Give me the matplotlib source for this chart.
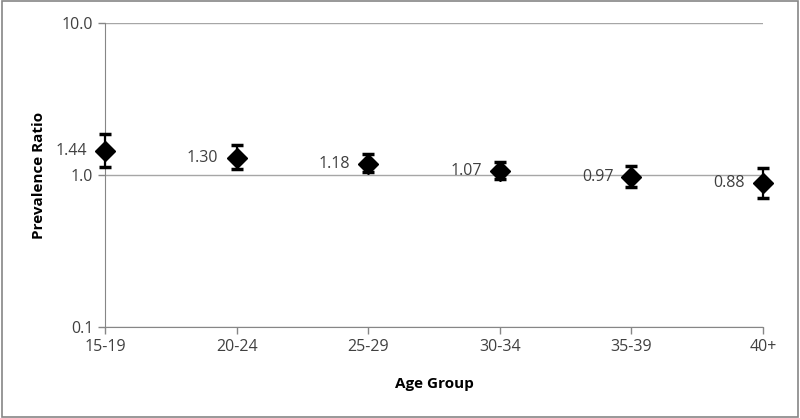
import matplotlib
matplotlib.use('Agg')
import matplotlib.pyplot as plt
from matplotlib.ticker import FixedLocator, NullLocator

groups = ['15-19', '20-24', '25-29', '30-34', '35-39', '40+']
ratio = [1.44, 1.30, 1.18, 1.07, 0.97, 0.88]
upper = [1.86, 1.57, 1.37, 1.22, 1.15, 1.11]
lower = [1.13, 1.09, 1.05, 0.94, 0.83, 0.71]

plt.rcParams['font.family'] = ['Open Sans', 'DejaVu Sans']

fig = plt.figure(figsize=(8, 4.18), dpi=100)
ax = fig.add_axes([105 / 800, 1 - 327 / 418, (763 - 105) / 800, (327 - 23) / 418])

x = list(range(len(groups)))
yerr = [[r - l for r, l in zip(ratio, lower)], [u - r for r, u in zip(ratio, upper)]]
eb = ax.errorbar(x, ratio, yerr=yerr, fmt='D', color='black', markersize=10,
                 ecolor='black', elinewidth=1.6, capsize=4.2, capthick=2.5, zorder=3)
for art in eb.lines[0:1] + tuple(eb.lines[1]) + tuple(eb.lines[2]):
    art.set_clip_on(False)

for xi, r in zip(x, ratio):
    ax.annotate('%.2f' % r, (xi, r), xytext=(-13, 0), textcoords='offset points',
                ha='right', va='center', fontsize=11.5, color='#404040')

ax.set_yscale('log')
ax.set_ylim(0.1, 10)
ax.set_xlim(0, len(groups) - 1)
ax.yaxis.set_major_locator(FixedLocator([0.1, 1, 10]))
ax.yaxis.set_minor_locator(NullLocator())
ax.set_yticklabels(['0.1', '1.0', '10.0'])
ax.set_xticks(x)
ax.set_xticklabels(groups)
ax.grid(axis='y', color='#a6a6a6', linewidth=1)
ax.set_axisbelow(True)

for s in ['top', 'right']:
    ax.spines[s].set_visible(False)
for s in ['left', 'bottom']:
    ax.spines[s].set_color('#868686')
ax.tick_params(axis='both', colors='#868686', labelcolor='#404040', labelsize=11.5,
               length=5, width=1, direction='out')

ax.set_xlabel('Age Group', fontsize=11, fontweight='bold', labelpad=16)
ax.set_ylabel('Prevalence Ratio', fontsize=11, fontweight='bold', labelpad=11)

fig.patches.append(plt.Rectangle((0.002, 0.003), 0.996, 0.994, transform=fig.transFigure,
                                 fill=False, edgecolor='#868686', linewidth=1.2))

fig.savefig('out.png', dpi=100)
